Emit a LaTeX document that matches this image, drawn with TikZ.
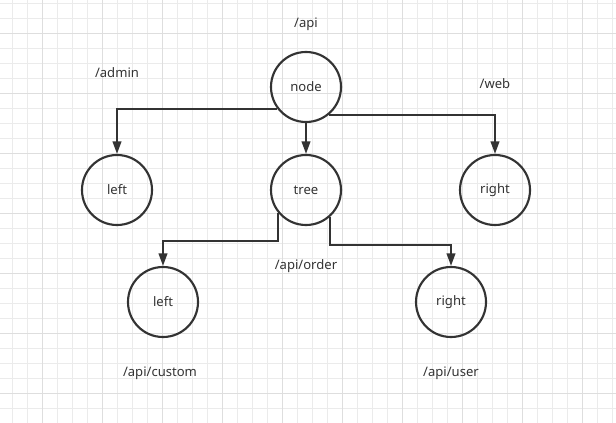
\documentclass[tikz,border=0pt]{standalone}
\usepackage{fontspec}
\setmainfont{Noto Sans}
\usetikzlibrary{arrows.meta,positioning}
\definecolor{ink}{HTML}{333333}
\definecolor{gridminor}{HTML}{EBEBEB}
\definecolor{gridmajor}{HTML}{DEDEDE}

\begin{document}
\begin{tikzpicture}[
    x=0.75pt, y=-0.75pt,
    vertex/.style={circle, draw=ink, line width=1.6pt, minimum size=52.5pt, inner sep=0pt, text=ink},
    route/.style={text=ink, inner sep=1pt},
    link/.style={-{Triangle[length=9.5pt,width=6.5pt]}, draw=ink, line width=1.6pt},
    every node/.style={font=\fontsize{9.8}{11}\selectfont}
  ]

  % Grid
  \useasboundingbox (0,0) rectangle (616,423);
  \foreach \gx in {12.7,27.7,...,616} \draw[gridminor, line width=0.75pt] (\gx,0) -- (\gx,423);
  \foreach \gy in {3.3,18.3,...,423} \draw[gridminor, line width=0.75pt] (0,\gy) -- (616,\gy);
  \foreach \gx in {42.7,102.7,...,616} \draw[gridmajor, line width=0.75pt] (\gx,0) -- (\gx,423);
  \foreach \gy in {33.3,93.3,...,423} \draw[gridmajor, line width=0.75pt] (0,\gy) -- (616,\gy);

  % Nodes
  \node[vertex] (root) at (306,87) {node};
  \node[vertex] (tree) at (306,190) {tree};
  \node[vertex] (left) at (117,190) {left};
  \node[vertex] (right) at (495,190) {right};
  \node[vertex] (cleft) at (163,302) {left};
  \node[vertex] (cright) at (451,302) {right};

  % Labels
  \node[route] (api) at (306,24) {/api};
  \node[route] (admin) at (117,73) {/admin};
  \node[route] (web) at (495,84) {/web};
  \node[route] (order) at (306,266) {/api/order};
  \node[route] (custom) at (160,373) {/api/custom};
  \node[route] (user) at (451,373) {/api/user};

  % Edges for root
  \draw[link] (root.217) -| (left);
  \draw[link] (root) -- (tree);
  \draw[link] (root.-50) -| (right);

  % Edges for tree
  \draw[link] (tree.220) -- ++(0,28) -| (cleft);
  \draw[link] (tree.-48) -- ++(0,28) -| (cright);

\end{tikzpicture}
\end{document}
